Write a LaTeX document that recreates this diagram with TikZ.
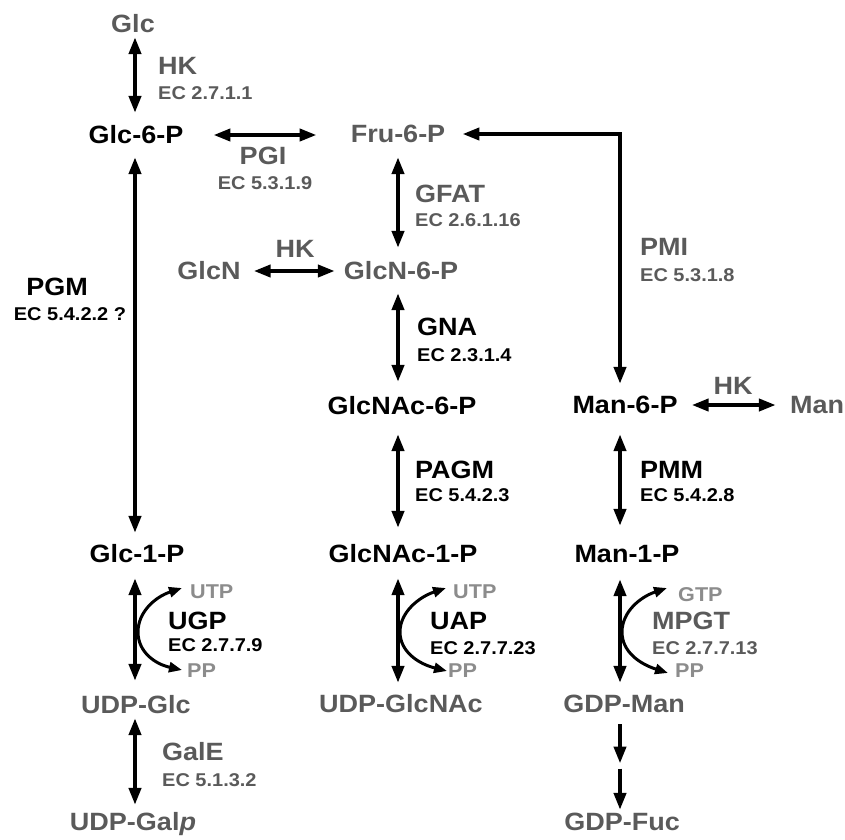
\documentclass[tikz,border=0pt]{standalone}
\usepackage{fontspec}
\setmainfont{Liberation Sans}[FakeStretch=1.08]
\usetikzlibrary{arrows.meta}
\definecolor{gtxt}{HTML}{5A5A5A}
\definecolor{ltxt}{HTML}{8C8C8C}
\tikzset{
  met/.style={inner sep=0pt, text height=17.9pt, text depth=0pt, font=\fontsize{25}{30}\selectfont\bfseries},
  ecl/.style={inner sep=0pt, text height=13.2pt, text depth=0pt, font=\fontsize{18.5}{22}\selectfont\bfseries},
  sml/.style={inner sep=0pt, text height=14.3pt, text depth=0pt, font=\fontsize{20}{24}\selectfont\bfseries, text=ltxt},
  gr/.style={text=gtxt},
  dbl/.style={line width=4pt, line join=miter, {Triangle[length=17pt,width=12pt]}-{Triangle[length=17pt,width=12pt]}},
  sgl/.style={line width=4pt, -{Triangle[length=17pt,width=12pt]}},
  cur/.style={line width=3pt, {Triangle[length=13pt,width=10pt]}-{Triangle[length=13pt,width=10pt]}},
}
\begin{document}
\begin{tikzpicture}[x=1pt,y=-1pt]
\useasboundingbox (0,0) rectangle (845,839);
% column coordinates
\coordinate (colA) at (135,0);
\coordinate (colB) at (398,0);
\coordinate (colC) at (620,0);
% metabolites
\node[met,gr] (glc) at (133,24) {Glc};
\node[met] (glc6p) at (136,135) {Glc-6-P};
\node[met,gr] (fru6p) at (398,134) {Fru-6-P};
\node[met,gr] (glcn) at (209,271) {GlcN};
\node[met,gr] (glcn6p) at (401,271) {GlcN-6-P};
\node[met] (glcnac6p) at (402,406) {GlcNAc-6-P};
\node[met] (man6p) at (625,405) {Man-6-P};
\node[met,gr] (man) at (817,405) {Man};
\node[met] (glc1p) at (137,554) {Glc-1-P};
\node[met] (glcnac1p) at (403,554) {GlcNAc-1-P};
\node[met] (man1p) at (627,554) {Man-1-P};
\node[met,gr] (udpglc) at (136,705) {UDP-Glc};
\node[met,gr] (udpglcnac) at (401,704) {UDP-GlcNAc};
\node[met,gr] (gdpman) at (624,704) {GDP-Man};
\node[met,gr] (udpgal) at (133,822) {UDP-Gal\textit{p}};
\node[met,gr] (gdpfuc) at (622,822) {GDP-Fuc};
\coordinate (gdpmid) at (620,766);
% enzyme labels
\node[met,gr,anchor=west] (hk1) at (158,66) {HK};
\node[ecl,gr,anchor=west] (ec1) at (158,92.5) {EC 2.7.1.1};
\node[met,gr] (pgi) at (263,156) {PGI};
\node[ecl,gr] (ecpgi) at (265,183) {EC 5.3.1.9};
\node[met,gr,anchor=west] (gfat) at (415,194) {GFAT};
\node[ecl,gr,anchor=west] (ecgfat) at (415,220) {EC 2.6.1.16};
\node[met,gr] (hk2) at (295,249) {HK};
\node[met,gr,anchor=west] (pmi) at (640,247) {PMI};
\node[ecl,gr,anchor=west] (ecpmi) at (640,275) {EC 5.3.1.8};
\node[met] (pgm) at (57,287) {PGM};
\node[ecl] (ecpgm) at (70,314) {EC 5.4.2.2 ?};
\node[met,anchor=west] (gna) at (417,327) {GNA};
\node[ecl,anchor=west] (ecgna) at (417,355) {EC 2.3.1.4};
\node[met,gr] (hk3) at (733,386) {HK};
\node[met,anchor=west] (pagm) at (415,470) {PAGM};
\node[ecl,anchor=west] (ecpagm) at (415,495) {EC 5.4.2.3};
\node[met,anchor=west] (pmm) at (640,470) {PMM};
\node[ecl,anchor=west] (ecpmm) at (640,495) {EC 5.4.2.8};
\node[sml,anchor=west] (utp1) at (190,591) {UTP};
\node[met,anchor=west] (ugp) at (168,621) {UGP};
\node[ecl,anchor=west] (ecugp) at (168,645) {EC 2.7.7.9};
\node[sml,anchor=west] (pp1) at (187,670) {PP};
\node[sml,anchor=west] (utp2) at (453,591) {UTP};
\node[met,anchor=west] (uap) at (430,621) {UAP};
\node[ecl,anchor=west] (ecuap) at (430,648) {EC 2.7.7.23};
\node[sml,anchor=west] (pp2) at (448,670) {PP};
\node[sml,anchor=west] (gtp) at (678,594) {GTP};
\node[met,gr,anchor=west] (mpgt) at (652,621) {MPGT};
\node[ecl,gr,anchor=west] (ecmpgt) at (652,648) {EC 2.7.7.13};
\node[sml,anchor=west] (pp3) at (675,670) {PP};
\node[met,gr,anchor=west] (gale) at (162,752) {GalE};
\node[ecl,gr,anchor=west] (ecgale) at (162,780) {EC 5.1.3.2};
% vertical connectors column A
\draw[dbl, shorten <=4pt, shorten >=13pt] (glc.south -| colA) -- (glc6p.north -| colA);
\draw[dbl, shorten <=13pt, shorten >=12pt] (glc6p.south -| colA) -- (glc1p.north -| colA);
\draw[dbl, shorten <=15pt, shorten >=15pt] (glc1p.south -| colA) -- (udpglc.north -| colA);
\draw[dbl, shorten <=4pt, shorten >=8pt] (udpglc.south -| colA) -- (udpgal.north -| colA);
% column B
\draw[dbl, shorten <=14pt, shorten >=14pt] (fru6p.south -| colB) -- (glcn6p.north -| colB);
\draw[dbl, shorten <=13pt, shorten >=15pt] (glcn6p.south -| colB) -- (glcnac6p.north -| colB);
\draw[dbl, shorten <=19pt, shorten >=17pt] (glcnac6p.south -| colB) -- (glcnac1p.north -| colB);
\draw[dbl, shorten <=15pt, shorten >=12pt] (glcnac1p.south -| colB) -- (udpglcnac.north -| colB);
% column C
\draw[dbl, shorten <=20pt, shorten >=19pt] (man6p.south -| colC) -- (man1p.north -| colC);
\draw[dbl, shorten <=16pt, shorten >=12pt] (man1p.south -| colC) -- (gdpman.north -| colC);
\draw[sgl, shorten <=11pt, shorten >=2.5pt] (gdpman.south -| colC) -- (gdpmid);
\draw[sgl, shorten <=2.5pt, shorten >=3pt] (gdpmid) -- (gdpfuc.north -| colC);
% horizontal connectors
\draw[dbl, shorten <=30pt, shorten >=34pt] (glc6p.east) -- (glc6p.east -| fru6p.west);
\draw[dbl, shorten <=13pt, shorten >=9pt] (glcn.east) -- (glcn6p.west);
\draw[dbl, shorten <=14pt, shorten >=14pt] (man6p.east) -- (man.west);
% PMI
\draw[dbl, shorten <=17pt, shorten >=12pt] (fru6p.east) -- (fru6p.east -| colC) -- (man6p.north -| colC);
% curved side reactions
\draw[cur] (182,588) .. controls (155,597) and (138,612) .. (138,632) .. controls (138,652) and (155,664) .. (182,670);
\draw[cur] (446,588) .. controls (419,597) and (400,612) .. (400,632) .. controls (400,652) and (419,664) .. (447,671);
\draw[cur] (667,588) .. controls (640,597) and (622,612) .. (622,632) .. controls (622,652) and (640,664) .. (668,673);
\end{tikzpicture}
\end{document}
